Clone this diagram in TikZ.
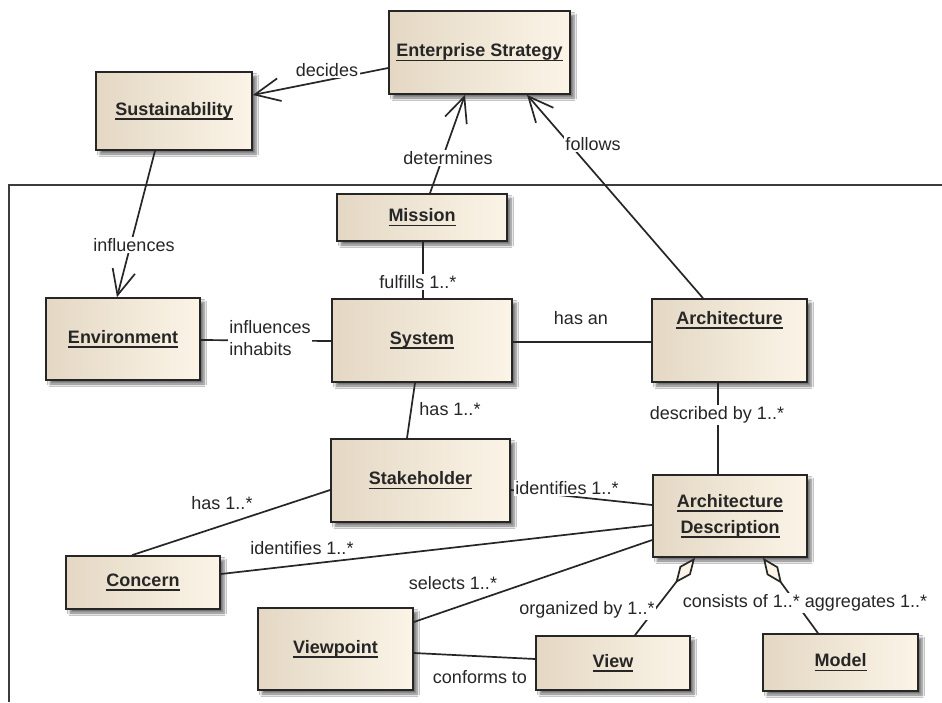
\documentclass[tikz,border=0pt]{standalone}
\usepackage{fontspec}
\setmainfont{Liberation Sans}
\usetikzlibrary{arrows.meta,shadows.blur,calc}

\definecolor{boxL}{RGB}{228,216,196}
\definecolor{boxR}{RGB}{251,244,231}
\definecolor{ink}{RGB}{38,38,38}
\definecolor{shade}{RGB}{120,120,120}

% underlined class name: rule at a fixed distance below the baseline
\newsavebox\ulsave
\newcommand{\ulabel}[1]{\sbox\ulsave{#1}\rlap{\rule[-4.2pt]{\wd\ulsave}{1.6pt}}\usebox\ulsave}

\tikzset{
  umlbox/.style={draw=ink, line width=1.7pt, left color=boxL, right color=boxR,
    font=\fontsize{18}{26}\selectfont\bfseries, text=ink, inner sep=0pt, align=center,
    blur shadow={shadow xshift=4pt, shadow yshift=-4pt, shadow blur radius=2.5pt,
      shadow blur steps=6, shadow opacity=55}},
  boxtext/.style={font=\fontsize{18}{26}\selectfont\bfseries, text=ink, inner sep=0pt},
  link/.style={draw=ink, line width=1.7pt},
  opento/.style={-{Straight Barb[length=25pt,width=23pt]}},
  agg/.style={{Diamond[length=32pt,width=14pt,fill=boxR]}-},
  lbl/.style={font=\fontsize{18}{22}\selectfont, text=ink, inner sep=1.5pt},
  gap/.style={lbl, fill=white},
  frame/.style={draw=ink!90, line width=1.5pt},
}

\begin{document}
\begin{tikzpicture}[x=1pt, y=-1pt]
  \fill[white] (0,0) rectangle (942,702);
  \useasboundingbox (0,0) rectangle (942,702);

  % enclosing boundary
  \draw[frame] (9,702) -- (9,185) -- (942,185);

  % classes
  \node[umlbox, minimum width=181pt, minimum height=83pt] (es)   at (479.5,52.5) {\ulabel{Enterprise Strategy}};
  \node[umlbox, minimum width=156pt, minimum height=78pt] (sust) at (174,111)    {\ulabel{Sustainability}};
  \node[umlbox, minimum width=170pt, minimum height=47pt] (mis)  at (422,217.5)  {\ulabel{Mission}};
  \node[umlbox, minimum width=154pt, minimum height=82pt] (env)  at (123,339)    {\ulabel{Environment}};
  \node[umlbox, minimum width=180pt, minimum height=83pt] (sys)  at (422,340.5)  {\ulabel{System}};
  \node[umlbox, minimum width=155pt, minimum height=83pt] (arch) at (729.5,340.5) {};
  \node[boxtext] at ($(arch.north)+(0,22)$) {\ulabel{Architecture}};
  \node[umlbox, minimum width=179pt, minimum height=83pt] (stk)  at (420.5,480.5) {\ulabel{Stakeholder}};
  \node[umlbox, minimum width=154pt, minimum height=82pt] (ad)   at (730,516)    {\ulabel{Architecture}\\\ulabel{Description}};
  \node[umlbox, minimum width=154pt, minimum height=53pt] (con)  at (143,582.5)  {\ulabel{Concern}};
  \node[umlbox, minimum width=155pt, minimum height=82pt] (vp)   at (335.5,649)  {\ulabel{Viewpoint}};
  \node[umlbox, minimum width=154pt, minimum height=54pt] (view) at (613,663)    {\ulabel{View}};
  \node[umlbox, minimum width=155pt, minimum height=57pt] (mod)  at (840.5,662.5) {\ulabel{Model}};

  % associations
  \draw[link,opento] ([yshift=-15.5pt]es.west) -- ([yshift=16pt]sust.east);
  \draw[link,opento] ([xshift=-19pt]sust.south) -- ([xshift=-6pt]env.north);
  \draw[link,opento] ([xshift=8pt]mis.north) -- ([xshift=-14.5pt]es.south);
  \draw[link,opento] ([xshift=-26.5pt]arch.north) -- ([xshift=47.5pt]es.south);
  \draw[link] ([xshift=1pt]mis.south) -- ([xshift=1pt]sys.north);
  \draw[link] ([yshift=-1.5pt]sys.east) -- ([yshift=-1.5pt]arch.west);
  \draw[link] ([yshift=-1pt]env.east) -- ([yshift=-0.5pt]sys.west);
  \draw[link] ([xshift=-7pt]sys.south) -- ([xshift=-13.5pt]stk.north);
  \draw[link] ([xshift=-11.5pt]arch.south) -- ([xshift=-12pt]ad.north);
  \draw[link] ([yshift=-9.5pt]stk.east) -- ([yshift=11pt]ad.west);
  \draw[link] ([yshift=-9.5pt]stk.west) -- ([xshift=-11pt]con.north);
  \draw[link] ([yshift=8.5pt]con.east) -- ([yshift=-9pt]ad.west);
  \draw[link] ([yshift=27pt]vp.east) -- ([yshift=-24pt]ad.west);
  \draw[link] ([yshift=-4pt]vp.east) -- ([yshift=4pt]view.west);
  \draw[link,agg] ([xshift=-35pt]ad.south) -- ([xshift=22pt]view.north);
  \draw[link,agg] ([xshift=33pt]ad.south) -- ([xshift=-22.5pt]mod.north);

  % association labels
  \node[gap] at (327,70)  {decides};
  \node[gap] at (134,245) {influences};
  \node[gap] at (448,158) {determines};
  \node[gap] at (593,144) {follows};
  \node[gap] at (418,282) {fulfills 1..*};
  \node[lbl] at (581,318) {has an};
  \node[gap, align=left] at (270,338) {influences\\inhabits};
  \node[lbl] at (450,409) {has 1..*};
  \node[gap] at (717,415) {described by 1..*};
  \node[gap] at (567,488) {identifies 1..*};
  \node[lbl] at (222,503) {has 1..*};
  \node[lbl] at (302,548) {identifies 1..*};
  \node[lbl] at (453,583) {selects 1..*};
  \node[lbl] at (480,677) {conforms to};
  \node[gap] at (587,610) {organized by 1..*};
  \node[gap] at (805,603) {consists of 1..* aggregates 1..*};
\end{tikzpicture}
\end{document}
